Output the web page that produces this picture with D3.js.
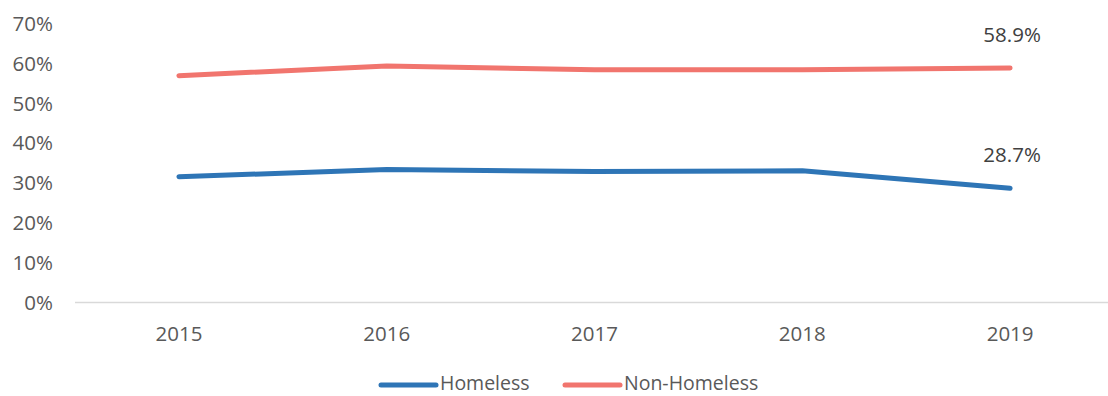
<!DOCTYPE html>
<html>
<head>
<meta charset="utf-8">
<script src="https://cdn.jsdelivr.net/npm/d3@7"></script>
<style>
  html, body { margin: 0; padding: 0; background: #fff; }
  svg { display: block; font-family: "Open Sans", sans-serif; }
</style>
</head>
<body>
<svg id="chart" width="1108" height="396"></svg>
<script>
// Share of each group by year (percent)
const years = ["2015", "2016", "2017", "2018", "2019"];
const homeless = [31.6, 33.4, 32.9, 33.1, 28.7];
const nonHomeless = [57.0, 59.4, 58.5, 58.5, 58.9];
const seriesNames = ["Homeless", "Non-Homeless"];
const seriesColors = ["#2E75B6", "#F1756E"];
const yTicks = [0, 10, 20, 30, 40, 50, 60, 70];

const series = [
  { name: seriesNames[0], color: seriesColors[0], values: homeless },
  { name: seriesNames[1], color: seriesColors[1], values: nonHomeless }
];

const svg = d3.select("#chart");

const x = d3.scaleBand().domain(years).range([75, 1114]);
const y = d3.scaleLinear().domain([0, 70]).range([302.5, 23.9]);

// y-axis labels (no axis line, no gridlines)
const yAxis = d3.axisLeft(y).tickValues(yTicks).tickFormat(d => d + "%").tickSize(0).tickPadding(0);
const gy = svg.append("g").attr("transform", "translate(53,0)").call(yAxis);
gy.select(".domain").remove();
gy.selectAll("text").attr("font-size", 20.5).attr("fill", "#595959").attr("font-family", "Open Sans");

// x-axis baseline and year labels
const xAxis = d3.axisBottom(x).tickSize(0).tickPadding(24);
const gx = svg.append("g").attr("transform", `translate(0,${y(0)})`).call(xAxis);
gx.select(".domain").attr("stroke", "#D9D9D9").attr("stroke-width", 1.5).attr("d", `M75,0H1108`);
gx.selectAll("text").attr("font-size", 20.5).attr("fill", "#595959").attr("font-family", "Open Sans");

// lines
const line = d3.line()
  .x((d, i) => x(years[i]) + x.bandwidth() / 2)
  .y(d => y(d));

svg.append("g").selectAll("path")
  .data(series)
  .join("path")
  .attr("d", s => line(s.values))
  .attr("fill", "none")
  .attr("stroke", s => s.color)
  .attr("stroke-width", 5)
  .attr("stroke-linecap", "round")
  .attr("stroke-linejoin", "round");

// value labels on the last point
const last = years.length - 1;
svg.append("g").selectAll("text")
  .data(series)
  .join("text")
  .attr("x", x(years[last]) + x.bandwidth() / 2 + 2)
  .attr("y", s => y(s.values[last]) - 26)
  .attr("text-anchor", "middle")
  .attr("font-size", 20.5)
  .attr("fill", "#404040")
  .text(s => s.values[last].toFixed(1) + "%");

// legend
const legend = svg.append("g");
const legendX = [381, 565];
series.forEach((s, i) => {
  const g = legend.append("g").attr("transform", `translate(${legendX[i]},385)`);
  g.append("line")
    .attr("x1", 0).attr("x2", 55)
    .attr("y1", 0).attr("y2", 0)
    .attr("stroke", s.color)
    .attr("stroke-width", 5)
    .attr("stroke-linecap", "round");
  g.append("text")
    .attr("x", 59)
    .attr("y", 5)
    .attr("font-size", 19.5)
    .attr("fill", "#595959")
    .text(s.name);
});
</script>
</body>
</html>
